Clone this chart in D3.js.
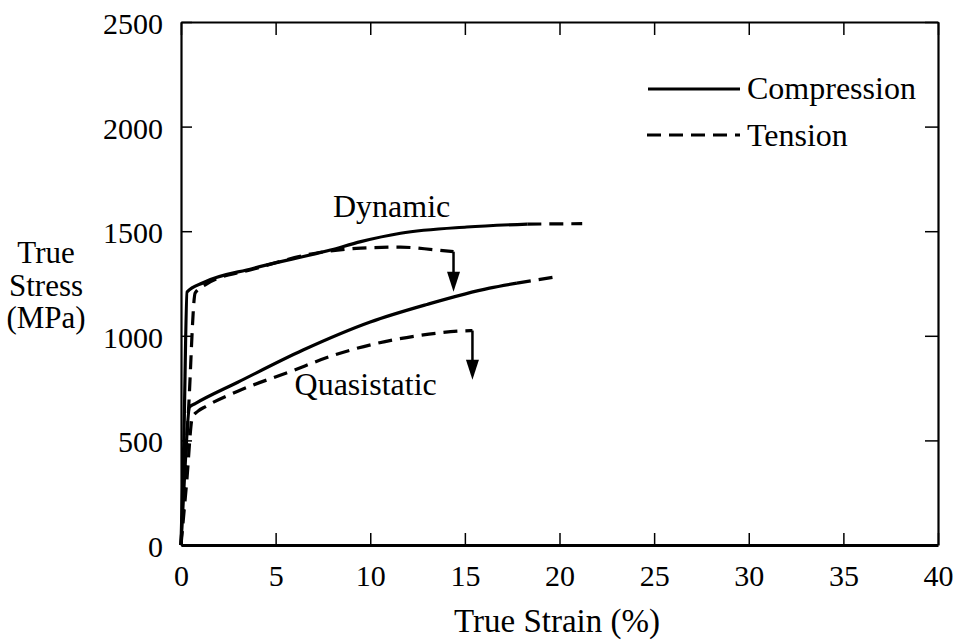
<!DOCTYPE html>
<html>
<head>
<meta charset="utf-8">
<script src="https://cdn.jsdelivr.net/npm/d3@7"></script>
<style>
  body { margin: 0; background: #fff; }
</style>
</head>
<body>
<div id="chart"></div>
<script>
// data: [true strain (%), true stress (MPa)]
var dynComp = [[0,0],[0.15,500],[0.32,1209],[1.2,1255],[3.8,1322],[7.9,1410],[9.5,1450],[11.6,1490],[15.1,1520],[18.3,1534]];
var dynCompExt = [[18.3,1534],[21.2,1536]];
var dynTens = [[0,0],[0.4,650],[0.75,1205],[1.3,1245],[3.8,1318],[7.3,1398],[9.5,1419],[11.6,1424],[13.3,1412],[14.4,1402]];
var quasiComp = [[0,0],[0.2,350],[0.45,660],[0.75,676],[3.0,778],[6.45,932],[10.0,1066],[13.0,1150],[16.3,1228],[17.75,1252]];
var quasiCompExt = [[17.75,1252],[19.9,1283]];
var quasiTens = [[0,0],[0.3,300],[0.6,610],[0.9,640],[1.3,662],[3.0,735],[5.8,830],[8.0,905],[10.4,965],[12.5,1000],[14.6,1022],[15.4,1025]];

// failure arrows at the end of the tension curves
var arrowX = [14.4, 15.4];
var arrowFrom = [1402, 1025];
var arrowTo = [1210, 790];

var xTicks = [0,5,10,15,20,25,30,35,40];
var yTicks = [0,500,1000,1500,2000,2500];

var serif = "'Liberation Serif', 'DejaVu Serif', serif";

//svg size
var svgWidth = 956;
var svgHeight = 644;

var margin = {top: 22, right: 18, bottom: 99, left: 181};
var width = svgWidth - margin.left - margin.right;
var height = svgHeight - margin.top - margin.bottom;

var svg = d3.select("#chart")
    .append("svg")
    .attr("width", svgWidth)
    .attr("height", svgHeight)
    .style("font-family", serif);

var chartGroup = svg.append("g")
    .attr("transform", `translate(${margin.left}, ${margin.top})`);

var x = d3.scaleLinear().domain([0, 40]).range([0, width]);
var y = d3.scaleLinear().domain([0, 2500]).range([height, 0]);

//axes, ticks point inwards on all four sides
var bottomAxis = d3.axisBottom(x).tickValues(xTicks).tickSize(-12).tickSizeOuter(0).tickPadding(20).tickFormat(d3.format("d"));
var leftAxis = d3.axisLeft(y).tickValues(yTicks).tickSize(-11).tickSizeOuter(0).tickPadding(18).tickFormat(d3.format("d"));
var topAxis = d3.axisTop(x).tickValues(xTicks).tickSize(-13).tickSizeOuter(0).tickFormat("");
var rightAxis = d3.axisRight(y).tickValues(yTicks).tickSize(-13).tickSizeOuter(0).tickFormat("");

var xAxis = chartGroup.append("g")
    .attr("transform", `translate(0, ${height})`)
    .call(bottomAxis);
var yAxis = chartGroup.append("g").call(leftAxis);
chartGroup.append("g").call(topAxis);
chartGroup.append("g").attr("transform", `translate(${width}, 0)`).call(rightAxis);

chartGroup.selectAll(".domain").attr("stroke", "#000").attr("stroke-width", 2.2);
xAxis.select(".domain").attr("stroke-width", 3);
chartGroup.selectAll(".tick line").attr("stroke", "#000").attr("stroke-width", 1.5);
yAxis.selectAll(".tick text").attr("dy", "0.38em");

//curves
var line = d3.line()
    .x(d => x(d[0]))
    .y(d => y(d[1]))
    .curve(d3.curveMonotoneX);

var series = [
    {pts: dynComp, dash: null},
    {pts: dynCompExt, dash: "14,8"},
    {pts: dynTens, dash: "14,8"},
    {pts: quasiComp, dash: null},
    {pts: quasiCompExt, dash: "14,8"},
    {pts: quasiTens, dash: "14,8"}
];

chartGroup.selectAll(".curve")
    .data(series)
    .enter()
    .append("path")
    .attr("class", "curve")
    .attr("d", d => line(d.pts))
    .attr("fill", "none")
    .attr("stroke", "#000")
    .attr("stroke-width", 3.2)
    .attr("stroke-dasharray", d => d.dash);

//arrows
arrowX.forEach(function(ax, i){
    var px = x(ax);
    var y0 = y(arrowFrom[i]);
    var y1 = y(arrowTo[i]);
    chartGroup.append("line")
        .attr("x1", px).attr("x2", px)
        .attr("y1", y0).attr("y2", y1 - 18)
        .attr("stroke", "#000")
        .attr("stroke-width", 2.5);
    chartGroup.append("path")
        .attr("d", `M${px - 6.5},${y1 - 20} L${px + 6.5},${y1 - 20} L${px},${y1} Z`)
        .attr("fill", "#000");
});

//one font for every label
svg.selectAll("text")
    .attr("font-family", null)
    .style("font-family", serif)
    .style("font-size", "30px")
    .attr("fill", "#000");
svg.selectAll("g").attr("font-family", null);

//curve labels
chartGroup.append("text")
    .attr("x", x(8.03))
    .attr("y", y(1568))
    .style("font-size", "32px")
    .text("Dynamic");

chartGroup.append("text")
    .attr("x", x(6.0))
    .attr("y", y(717))
    .style("font-size", "32px")
    .text("Quasistatic");

//legend
var legend = svg.append("g");
legend.append("line")
    .attr("x1", 648).attr("x2", 740).attr("y1", 89).attr("y2", 89)
    .attr("stroke", "#000").attr("stroke-width", 3);
legend.append("text")
    .attr("x", 747).attr("y", 99)
    .style("font-size", "32px")
    .text("Compression");
legend.append("line")
    .attr("x1", 647).attr("x2", 740).attr("y1", 135).attr("y2", 135)
    .attr("stroke", "#000").attr("stroke-width", 3)
    .attr("stroke-dasharray", "14,8");
legend.append("text")
    .attr("x", 747).attr("y", 146)
    .style("font-size", "32px")
    .text("Tension");

//axis titles
svg.append("text")
    .attr("x", 557)
    .attr("y", 632)
    .attr("text-anchor", "middle")
    .style("font-size", "33px")
    .text("True Strain (%)");

var yTitle = ["True", "Stress", "(MPa)"];
svg.selectAll(".ytitle")
    .data(yTitle)
    .enter()
    .append("text")
    .attr("class", "ytitle")
    .attr("x", 46)
    .attr("y", (d, i) => 263 + i * 32.5)
    .attr("text-anchor", "middle")
    .style("font-size", "31px")
    .text(d => d);
</script>
</body>
</html>
